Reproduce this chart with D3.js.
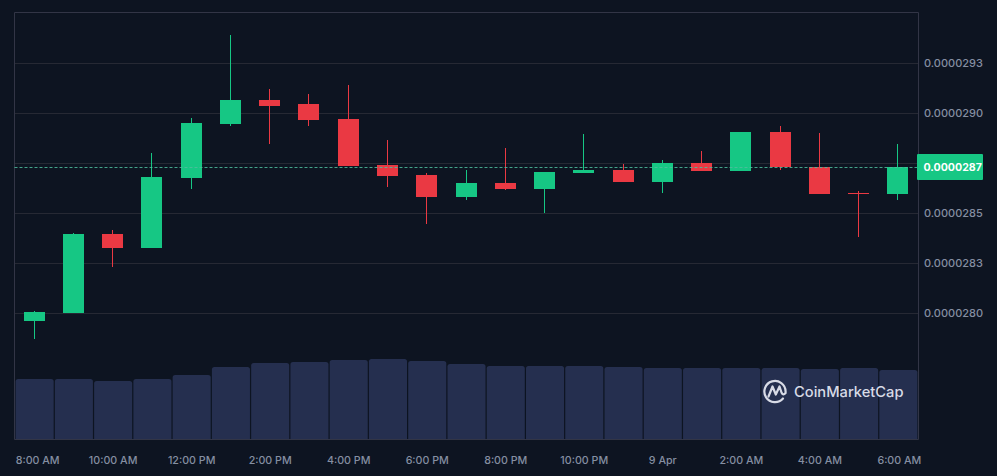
<!DOCTYPE html>
<html>
<head>
<meta charset="utf-8">
<script src="https://cdn.jsdelivr.net/npm/d3@7"></script>
<style>
    html, body { margin: 0; padding: 0; background: #0d1421; overflow: hidden; }
    svg { display: block; font-family: Inter, "Noto Sans", sans-serif; }
</style>
</head>
<body>
<div id="chart"></div>
<script>
// prices are in units of 0.0000001
const times = ["8:00 AM", "9:00 AM", "10:00 AM", "11:00 AM", "12:00 PM", "1:00 PM", "2:00 PM", "3:00 PM",
    "4:00 PM", "5:00 PM", "6:00 PM", "7:00 PM", "8:00 PM", "9:00 PM", "10:00 PM", "11:00 PM",
    "9 Apr", "1:00 AM", "2:00 AM", "3:00 AM", "4:00 AM", "5:00 AM", "6:00 AM"];
const opens = [279.6, 280.0, 283.95, 283.25, 286.75, 289.45, 290.65, 290.45, 289.7, 287.4, 286.9, 285.8,
    286.5, 286.2, 287.0, 287.15, 286.55, 287.5, 287.1, 289.05, 287.3, 286.0, 285.95];
const closes = [280.05, 283.95, 283.25, 286.8, 289.5, 290.65, 290.35, 289.65, 287.35, 286.85, 285.8, 286.5,
    286.2, 287.05, 287.15, 286.55, 287.5, 287.1, 289.05, 287.3, 285.95, 286.0, 287.3];
const highs = [280.1, 284.0, 284.15, 288.0, 289.75, 293.9, 291.2, 290.95, 291.4, 288.65, 287.0, 287.15,
    288.25, 287.05, 288.95, 287.45, 287.65, 288.1, 289.05, 289.35, 289.0, 286.1, 288.45];
const lows = [278.7, 280.0, 282.3, 283.25, 286.2, 289.35, 288.45, 289.35, 287.35, 286.3, 284.45, 285.65,
    286.15, 285.0, 287.0, 286.55, 286.0, 287.1, 287.1, 287.15, 285.95, 283.8, 285.65];
const volumes = [60, 60, 58, 60, 64, 72, 76, 77, 79, 80, 78, 75, 73, 73, 73, 72, 71, 71, 71, 71, 70, 71, 69];
const priceTicks = [280, 282.5, 285, 287.5, 290, 292.5];
const timeTicks = ["8:00 AM", "10:00 AM", "12:00 PM", "2:00 PM", "4:00 PM", "6:00 PM", "8:00 PM",
    "10:00 PM", "9 Apr", "2:00 AM", "4:00 AM", "6:00 AM"];
const lastPrice = 287.3;

const width = 997, height = 476;
const margin = {top: 12.5, right: 79, bottom: 37, left: 14.5};
const plotRight = width - margin.right, plotBottom = height - margin.bottom;

const up = "#16c784", down = "#ea3943", grid = "#262934", frame = "#323546", muted = "#858fa2";
const fmt = d => (Math.round(d) / 1e7).toFixed(7);

const x = d3.scaleBand().domain(times).range([margin.left + 0.5, plotRight]);
const y = d3.scaleLinear().domain([280, 292.5]).range([313, 63]);
const v = d3.scaleLinear().domain([0, 100]).range([plotBottom, plotBottom - 100]);
const bodyW = 21;
const volW = x.bandwidth() - 1.2;
const bodyX = d => Math.floor(x(d) + (x.bandwidth() - bodyW) / 2);

const svg = d3.select("#chart").append("svg")
    .attr("width", width)
    .attr("height", height)
    .attr("viewBox", [0, 0, width, height]);

// gridlines and tick labels (the 0.0000288 label sits under the price tag)
svg.append("g")
    .attr("transform", `translate(${plotRight},0)`)
    .call(d3.axisRight(y).tickValues(priceTicks).tickFormat(fmt).tickSize(0).tickPadding(6))
    .call(g => g.select(".domain").remove())
    .call(g => g.selectAll(".tick line").clone()
        .attr("x1", margin.left - plotRight)
        .attr("x2", 0)
        .attr("stroke", grid))
    .call(g => g.selectAll(".tick text")
        .attr("fill", muted)
        .attr("font-size", 11)
        .attr("font-weight", 500)
        .attr("font-family", "Inter")
        .filter(d => d === 287.5).remove());

// volume bars, rounded on top
svg.append("g")
    .selectAll("path")
    .data(volumes)
    .join("path")
    .attr("fill", "#252f4f")
    .attr("d", (d, i) => {
        const p = d3.path(), r = 2.5;
        const x0 = x(times[i]) + (x.bandwidth() - volW) / 2, x1 = x0 + volW, top = v(d);
        p.moveTo(x0, plotBottom);
        p.lineTo(x0, top + r);
        p.arcTo(x0, top, x0 + r, top, r);
        p.lineTo(x1 - r, top);
        p.arcTo(x1, top, x1, top + r, r);
        p.lineTo(x1, plotBottom);
        p.closePath();
        return p.toString();
    });

// plot frame
svg.append("path")
    .attr("fill", "none")
    .attr("stroke", frame)
    .attr("d", `M${margin.left},${plotBottom + 0.5}V${margin.top}H${plotRight + 0.5}V${plotBottom + 0.5}H${margin.left}`);

// candles
const candles = svg.append("g")
    .selectAll("g")
    .data(times)
    .join("g")
    .attr("fill", (d, i) => closes[i] > opens[i] ? up : down)
    .attr("stroke", (d, i) => closes[i] > opens[i] ? up : down);

candles.append("line")
    .attr("x1", d => bodyX(d) + 10.5)
    .attr("x2", d => bodyX(d) + 10.5)
    .attr("y1", (d, i) => y(highs[i]))
    .attr("y2", (d, i) => y(lows[i]));

candles.append("rect")
    .attr("stroke", "none")
    .attr("x", d => bodyX(d))
    .attr("width", bodyW)
    .attr("y", (d, i) => y(Math.max(opens[i], closes[i])))
    .attr("height", (d, i) => Math.max(1, Math.abs(y(opens[i]) - y(closes[i]))));

// current price line and tag
const lastY = Math.round(y(lastPrice)) + 0.5;
svg.append("line")
    .attr("x1", margin.left)
    .attr("x2", plotRight)
    .attr("y1", lastY)
    .attr("y2", lastY)
    .attr("stroke", "#4fbd9c")
    .attr("stroke-opacity", 0.85)
    .attr("stroke-dasharray", "3,2");

svg.append("rect")
    .attr("x", plotRight - 1)
    .attr("y", lastY - 13.5)
    .attr("width", 66)
    .attr("height", 26)
    .attr("rx", 1)
    .attr("fill", up);

svg.append("text")
    .attr("x", plotRight + 5.5)
    .attr("y", lastY)
    .attr("dy", "0.35em")
    .attr("fill", "#fff")
    .attr("font-size", 10.6)
    .attr("font-weight", 700)
    .text(fmt(lastPrice));

// time axis
svg.append("g")
    .attr("transform", `translate(0,${plotBottom})`)
    .call(d3.axisBottom(x).tickValues(timeTicks).tickSize(0).tickPadding(17))
    .call(g => g.select(".domain").remove())
    .call(g => g.selectAll(".tick text")
        .attr("fill", muted)
        .attr("font-size", 10.7)
        .attr("font-weight", 500)
        .attr("font-family", "Inter"))
    .call(g => g.selectAll(".tick text").filter(d => d === "8:00 AM").attr("dx", 3))
    .call(g => g.selectAll(".tick text").filter(d => d === "6:00 AM").attr("dx", 1));

// watermark
const logo = svg.append("g").attr("fill", "none").attr("stroke", "#d8dbe6").attr("stroke-width", 2.2)
    .attr("stroke-linecap", "round").attr("stroke-linejoin", "round");
logo.append("path").attr("d", "M783 398.5A10.6 10.6 0 1 1 785.6 391.5V392");
logo.append("path").attr("d", "M768.5 396.5L772.5 386.5L775.8 394.5L779.5 386.5L781.5 392.5Q783 396 785.6 393");

svg.append("text")
    .attr("x", 794)
    .attr("y", 397)
    .attr("fill", "#d8dbe6")
    .attr("font-size", 14.7)
    .attr("font-weight", 500)
    .text("CoinMarketCap");
</script>
</body>
</html>
